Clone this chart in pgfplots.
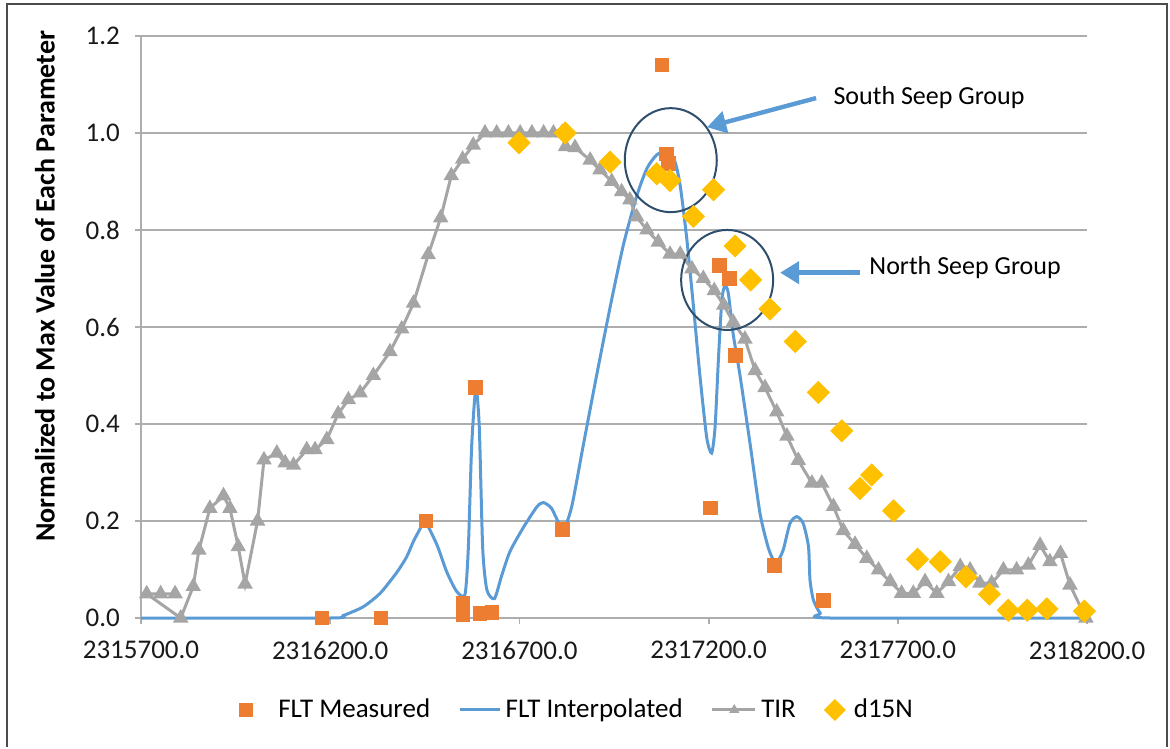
\documentclass[border=0pt]{standalone}
\usepackage{pgfplots}
\pgfplotsset{compat=1.18}
\usepackage{pgfplotstable}
\usepackage{fontspec}
\setmainfont{Carlito}
\usetikzlibrary{arrows.meta}
\definecolor{fltorange}{HTML}{ED7D31}
\definecolor{fltblue}{HTML}{5B9BD5}
\definecolor{tirgray}{HTML}{A5A5A5}
\definecolor{dgold}{HTML}{FFC000}
\definecolor{circ}{HTML}{2F4E6E}
\definecolor{gridgray}{HTML}{ADADAD}

% x values are northing minus 2315700
\pgfplotstableread{
dx y
478 0.0
634 0.0
753 0.2
851 0.03
851 0.008
896 0.009
927 0.012
884 0.475
1114 0.183
1377 1.14
1389 0.957
1394 0.937
1504 0.227
1528 0.727
1555 0.70
1570 0.542
1674 0.108
1803 0.036
}\fltmeas

\pgfplotstableread{
dx y
0 0
500 0
534 0.005
587 0.023
632 0.051
676 0.094
702 0.126
720 0.158
737 0.183
750 0.2
782 0.151
808 0.095
834 0.055
856 0.048
865 0.144
874 0.357
885 0.475
894 0.393
903 0.144
914 0.058
934 0.04
953 0.087
975 0.137
1010 0.186
1046 0.229
1063 0.238
1085 0.226
1115 0.183
1138 0.229
1169 0.357
1204 0.5
1240 0.642
1275 0.77
1310 0.87
1337 0.927
1363 0.955
1389 0.962
1411 0.941
1425 0.891
1442 0.784
1460 0.642
1477 0.5
1495 0.372
1508 0.34
1517 0.393
1526 0.535
1535 0.656
1543 0.685
1552 0.67
1565 0.585
1583 0.5
1610 0.357
1636 0.215
1658 0.144
1674 0.115
1680 0.113
1697 0.14
1715 0.195
1733 0.209
1750 0.195
1764 0.147
1768 0.078
1777 0.037
1795 0.01
1821 0
2500 0
}\fltinterp

\pgfplotstableread{
dx y
90 0.05
52 0.05
15 0.05
105 0.0
138 0.065
153 0.14
182 0.226
218 0.252
235 0.226
257 0.147
275 0.07
308 0.2
325 0.326
359 0.34
381 0.32
403 0.315
438 0.347
460 0.347
491 0.368
521 0.421
548 0.45
579 0.464
614 0.5
658 0.549
689 0.596
720 0.649
759 0.749
792 0.825
820 0.912
850 0.946
878 0.975
909 1.0
940 1.0
971 1.0
1002 1.0
1033 1.0
1064 1.0
1090 1.0
1112 1.0
1122 0.972
1147 0.97
1187 0.944
1213 0.924
1244 0.9
1270 0.879
1292 0.862
1310 0.827
1337 0.80
1367 0.775
1398 0.75
1425 0.75
1456 0.72
1486 0.70
1515 0.675
1540 0.645
1565 0.61
1596 0.575
1623 0.51
1649 0.475
1680 0.425
1707 0.375
1737 0.325
1773 0.278
1799 0.278
1830 0.23
1856 0.18
1887 0.152
1918 0.123
1949 0.099
1980 0.075
2010 0.051
2041 0.051
2072 0.075
2103 0.051
2134 0.075
2165 0.106
2191 0.099
2217 0.072
2248 0.072
2279 0.099
2314 0.099
2345 0.109
2376 0.15
2402 0.116
2430 0.133
2455 0.068
2497 0.0
}\tir

\pgfplotstableread{
dx y
999 0.98
1121 1.0
1240 0.94
1363 0.916
1398 0.902
1513 0.883
1460 0.828
1570 0.767
1611 0.697
1662 0.637
1729 0.57
1790 0.465
1852 0.386
1931 0.295
1900 0.267
1989 0.221
2052 0.121
2112 0.116
2180 0.085
2242 0.049
2292 0.016
2342 0.016
2394 0.019
2493 0.014
}\dfn

\begin{document}
\begin{tikzpicture}[x=1pt,y=1pt]
\path (0,0) rectangle (585,373.5);
\draw[line width=1.2pt, black!70] (3.5,0) -- (3.5,371.5) -- (583.5,371.5) -- (583.5,0);
\begin{axis}[
  at={(70.5pt,64.5pt)}, anchor=south west,
  scale only axis, width=473pt, height=291pt,
  xmin=0, xmax=2500, ymin=0, ymax=1.2,
  xtick={0,500,1000,1500,2000,2500},
  xticklabels={2315700.0,2316200.0,2316700.0,2317200.0,2317700.0,2318200.0},
  ytick={0,0.2,0.4,0.6,0.8,1.0,1.2},
  y tick label style={/pgf/number format/fixed, /pgf/number format/fixed zerofill, /pgf/number format/precision=1},
  /pgf/number format/assume math mode=true,
  axis lines*=left,
  axis line style={gridgray, line width=0.9pt},
  ymajorgrids, grid style={gridgray, line width=0.9pt},
  tick style={gridgray, line width=0.9pt},
  tick align=outside, major tick length=3pt,
  ticklabel style={font=\fontsize{13.5}{16}\selectfont, text=black!90},
  xticklabel style={yshift=-5pt},
  yticklabel style={xshift=-4pt},
  clip=false,
  ylabel={Normalized to Max Value of Each Parameter},
  ylabel style={font=\bfseries\fontsize{14}{16}\selectfont, at={(axis description cs:-0.1015,0.57)}, anchor=center},
  legend style={at={(0.460,-0.158)}, anchor=center, draw=none, fill=none,
    legend columns=4, font=\fontsize{13.5}{16}\selectfont,
    nodes={inner xsep=0pt},
    /tikz/every even column/.append style={column sep=14pt}},
  legend cell align=left,
]
\addplot[only marks, mark=square*, mark size=3.4pt, fltorange, mark options={draw=fltorange, fill=fltorange},
  legend image code/.code={\path[draw=none,fill=none] (0pt,0pt) -- (16pt,0pt); \path[draw=none,fill=fltorange] (-3.4pt,-3.4pt) rectangle (3.4pt,3.4pt);}] table[x=dx,y=y] {\fltmeas};
\addlegendentry{FLT Measured}
\addplot[no marks, fltblue, line width=1.5pt, smooth, tension=0.4,
  legend image code/.code={\path[draw=none,fill=none] (0pt,0pt) -- (23pt,0pt); \draw[fltblue, line width=1.5pt] (0pt,0pt) -- (20pt,0pt);}] table[x=dx,y=y] {\fltinterp};
\addlegendentry{FLT Interpolated}
\addplot[tirgray, line width=1.5pt, mark=triangle*, mark size=3pt, mark options={fill=tirgray, draw=tirgray},
  legend image code/.code={\path[draw=none,fill=none] (0pt,0pt) -- (24.5pt,0pt); \draw[tirgray, line width=1.5pt] (0pt,0pt) -- (21.5pt,0pt); \path[draw=none,fill=tirgray] (11pt,3pt) -- (13.6pt,-1.5pt) -- (8.4pt,-1.5pt) -- cycle;}] table[x=dx,y=y] {\tir};
\addlegendentry{TIR}
\addplot[only marks, mark=square*, mark size=3.9pt, dgold, mark options={rotate=45, fill=dgold, draw=dgold},
  legend image code/.code={\path[draw=none,fill=none] (0pt,0pt) -- (9.5pt,0pt); \path[draw=none,fill=dgold] (0pt,5.5pt) -- (5.5pt,0pt) -- (0pt,-5.5pt) -- (-5.5pt,0pt) -- cycle;}] table[x=dx,y=y] {\dfn};
\addlegendentry{d15N}

\draw[circ, line width=1pt] (axis cs:1400,0.944) ellipse [x radius=23pt, y radius=26pt];
\draw[circ, line width=1pt] (axis cs:1549,0.697) ellipse [x radius=23pt, y radius=25pt];
\draw[fltblue, line width=2.2pt, -{Triangle[length=9.5pt,width=11pt]}] (axis cs:1784,1.072) -- (axis cs:1496,1.012);
\draw[fltblue, line width=2.2pt, -{Triangle[length=9.5pt,width=11pt]}] (axis cs:1900,0.712) -- (axis cs:1689,0.712);
\node[anchor=west, font=\fontsize{13}{15}\selectfont, inner sep=0pt] at (axis cs:1829,1.074) {South Seep Group};
\node[anchor=west, font=\fontsize{13}{15}\selectfont, inner sep=0pt] at (axis cs:1924,0.722) {North Seep Group};
\end{axis}
\end{tikzpicture}
\end{document}
